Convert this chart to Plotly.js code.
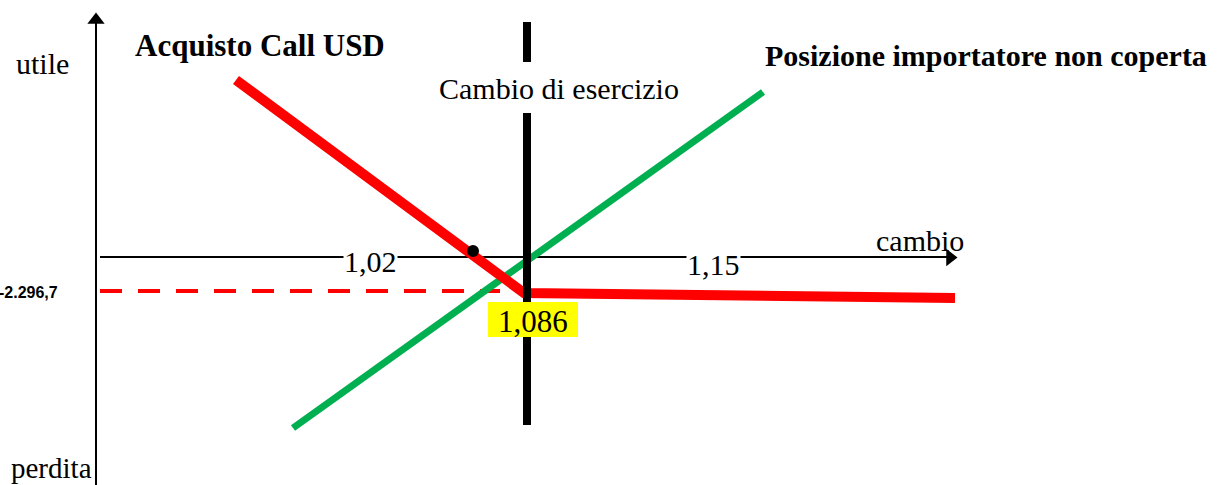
<!DOCTYPE html>
<html><head><meta charset="utf-8">
<script src="https://cdn.plot.ly/plotly-3.0.1.min.js"></script>
<style>html,body{margin:0;padding:0;background:#fff}#c{width:1231px;height:485px}</style>
</head><body><div id="c"></div>
<script>
// Schematic diagram frame (horizontal = cambio, vertical = utile/perdita, drawing units)
const yAxisX = [96, 96];
const yAxisY = [485, 22];
const xAxisX = [100, 948];
const xAxisY = [257, 257];
const strikeUpperY = [22, 62];
const strikeLowerY = [113, 425];
const strikeX = [527, 527];
const callX = [236, 524, 955];
const callY = [80, 293, 298];
const premiumX = [100, 500];
const premiumY = [291, 291];
const unhedgedX = [293, 763];
const unhedgedY = [428, 92];
const dotX = [473];
const dotY = [251];
const tickLabels = ["1,02", "1,15"];
const tickPosX = [370, 713];
const tickPosY = [261, 264];
const strikeLabel = "1,086";
const premiumLabel = "-2.296,7";

const serif = "Liberation Serif, Times New Roman, serif";
const traces = [
  {x: yAxisX, y: yAxisY, mode: "lines", line: {color: "#000", width: 2}},
  {x: [96], y: [20], mode: "markers", marker: {symbol: "triangle-up", size: 15, color: "#000"}},
  {x: xAxisX, y: xAxisY, mode: "lines", line: {color: "#000", width: 2}},
  {x: [950], y: [257.5], mode: "markers", marker: {symbol: "triangle-right", size: 15, color: "#000"}},
  {x: premiumX, y: premiumY, mode: "lines", line: {color: "#ff0000", width: 4, dash: "22px,16px"}},
  {x: unhedgedX, y: unhedgedY, mode: "lines", line: {color: "#00b050", width: 7}},
  {x: callX, y: callY, mode: "lines", line: {color: "#ff0000", width: 10}},
  {x: strikeX, y: strikeUpperY, mode: "lines", line: {color: "#000", width: 8}},
  {x: strikeX, y: strikeLowerY, mode: "lines", line: {color: "#000", width: 8}},
  {x: dotX, y: dotY, mode: "markers", marker: {size: 12, color: "#000"}}
];

const ann = [];
function txt(t, x, y, size, opts) {
  ann.push(Object.assign({text: t, x: x, y: y, xref: "x", yref: "y", showarrow: false,
    font: {family: serif, size: size, color: "#000"}}, opts || {}));
}
tickLabels.forEach((t, i) => txt(t, tickPosX[i], tickPosY[i], 30, {bgcolor: "#fff", borderpad: 0}));
txt("cambio", 920, 240, 30);
txt("utile", 42, 63, 30);
txt("perdita", 51, 468, 29);
txt("<b>Acquisto Call USD</b>", 260, 45, 31);
txt("<b>Posizione importatore non coperta</b>", 986, 55, 30);
txt("Cambio di esercizio", 559, 88, 30);
txt(strikeLabel, 533, 321, 31);
ann.push({text: "<b>" + premiumLabel + "</b>", x: 28, y: 292, xref: "x", yref: "y", showarrow: false,
  font: {family: "Liberation Sans, Arial, sans-serif", size: 16, color: "#000"}});

const layout = {
  width: 1231, height: 485,
  margin: {l: 0, r: 0, t: 0, b: 0},
  paper_bgcolor: "#fff", plot_bgcolor: "#fff",
  showlegend: false,
  xaxis: {range: [0, 1231], visible: false, fixedrange: true},
  yaxis: {range: [485, 0], visible: false, fixedrange: true},
  shapes: [{type: "rect", xref: "x", yref: "y", x0: 488, x1: 578, y0: 302, y1: 337,
    fillcolor: "#ffff00", line: {width: 0}, layer: "above"}],
  annotations: ann
};
Plotly.newPlot("c", traces, layout, {staticPlot: true, displayModeBar: false});
</script></body></html>
